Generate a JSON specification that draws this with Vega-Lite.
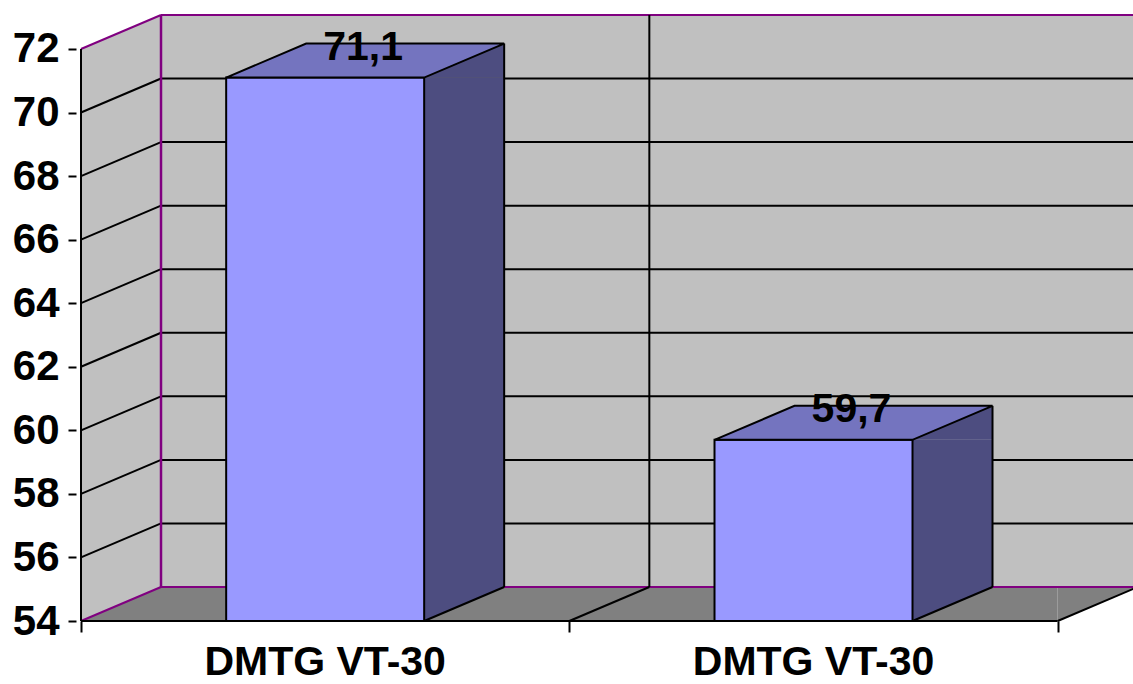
{
  "$schema": "https://vega.github.io/schema/vega-lite/v6.json",
  "autosize": {"type": "none"},
  "padding": {"left": 76, "top": 14, "right": 0, "bottom": 63},
  "width": 1057,
  "height": 607,
  "background": "white",
  "config": {
    "view": {"stroke": null},
    "locale": {"number": {"decimal": ",", "thousands": ".", "grouping": [3], "currency": ["", " €"]}}
  },
  "datasets": {
    "bars": [
      {"idx": 1, "name": "DMTG VT-30", "value": 71.1},
      {"idx": 2, "name": "DMTG VT-30", "value": 59.7}
    ],
    "grid": [
      {"v": 54}, {"v": 56}, {"v": 58}, {"v": 60}, {"v": 62},
      {"v": 64}, {"v": 66}, {"v": 68}, {"v": 70}, {"v": 72}
    ],
    "one": [{}]
  },
  "layer": [
    {
      "data": {"name": "one"},
      "mark": {"type": "rect", "fill": "#c0c0c0", "xOffset": 80, "x2Offset": 80, "yOffset": -34, "y2Offset": -34},
      "encoding": {
        "x": {
          "datum": 0.5, "type": "quantitative",
          "scale": {"domain": [0.5, 2.644], "nice": false, "zero": false},
          "axis": {"values": [0.5, 1.5, 2.5], "labels": false, "title": null, "domain": false, "grid": false, "tickSize": 11, "tickWidth": 2, "tickColor": "#000000"}
        },
        "x2": {"datum": 2.5},
        "y": {
          "datum": 54, "type": "quantitative",
          "scale": {"domain": [54, 73.1], "nice": false, "zero": false},
          "axis": {"values": [54, 56, 58, 60, 62, 64, 66, 68, 70, 72], "title": null, "domain": false, "grid": false, "tickSize": 8, "tickWidth": 2, "tickColor": "#000000", "labelFont": "Liberation Sans", "labelFontSize": 42, "labelFontWeight": "bold", "labelColor": "#000000", "labelPadding": 9, "labelFlush": false, "labelOverlap": false, "labelBound": false}
        },
        "y2": {"datum": 72}
      }
    },
    {
      "data": {"name": "one"},
      "mark": {"type": "rect", "fill": "#c0c0c0", "x2Offset": 80, "y2Offset": -34},
      "encoding": {
        "x": {"datum": 0.5, "type": "quantitative"}, "x2": {"datum": 0.5},
        "y": {"datum": 72, "type": "quantitative"}, "y2": {"datum": 54}
      }
    },
    {
      "data": {"name": "one"},
      "mark": {"type": "point", "shape": "M0 0L80 -34L80 0Z", "size": 4, "filled": true, "fill": "#c0c0c0", "opacity": 1, "strokeWidth": 0},
      "encoding": {"x": {"datum": 0.5, "type": "quantitative"}, "y": {"datum": 72, "type": "quantitative"}}
    },
    {
      "data": {"name": "one"},
      "mark": {"type": "point", "shape": "M0 0L0 -34L80 -34Z", "size": 4, "filled": true, "fill": "#c0c0c0", "opacity": 1, "strokeWidth": 0},
      "encoding": {"x": {"datum": 0.5, "type": "quantitative"}, "y": {"datum": 54, "type": "quantitative"}}
    },
    {
      "data": {"name": "one"},
      "mark": {"type": "rect", "fill": "#808080", "xOffset": 80, "y2Offset": -34},
      "encoding": {
        "x": {"datum": 0.5, "type": "quantitative"}, "x2": {"datum": 2.5},
        "y": {"datum": 54, "type": "quantitative"}, "y2": {"datum": 54}
      }
    },
    {
      "data": {"name": "one"},
      "mark": {"type": "point", "shape": "M0 0L80 -34L80 0Z", "size": 4, "filled": true, "fill": "#808080", "opacity": 1, "strokeWidth": 0},
      "encoding": {"x": {"datum": 0.5, "type": "quantitative"}, "y": {"datum": 54, "type": "quantitative"}}
    },
    {
      "data": {"name": "one"},
      "mark": {"type": "point", "shape": "M0 0L0 -34L80 -34Z", "size": 4, "filled": true, "fill": "#808080", "opacity": 1, "strokeWidth": 0},
      "encoding": {"x": {"datum": 2.5, "type": "quantitative"}, "y": {"datum": 54, "type": "quantitative"}}
    },
    {
      "data": {"name": "grid"},
      "mark": {"type": "rule", "strokeWidth": 2, "xOffset": 80, "x2Offset": 80, "yOffset": -34},
      "encoding": {
        "y": {"field": "v", "type": "quantitative", "title": null},
        "x": {"datum": 0.5, "type": "quantitative"}, "x2": {"datum": 2.5},
        "stroke": {"condition": {"test": "datum.v == 54 || datum.v == 72", "value": "#800080"}, "value": "#000000"}
      }
    },
    {
      "data": {"name": "grid"},
      "mark": {"type": "rule", "strokeWidth": 2, "x2Offset": 80, "y2Offset": -34},
      "encoding": {
        "y": {"field": "v", "type": "quantitative", "title": null},
        "y2": {"field": "v"},
        "x": {"datum": 0.5, "type": "quantitative"}, "x2": {"datum": 0.5},
        "stroke": {"condition": {"test": "datum.v == 54 || datum.v == 72", "value": "#800080"}, "value": "#000000"}
      }
    },
    {
      "data": {"name": "one"},
      "mark": {"type": "rule", "strokeWidth": 2.5, "stroke": "#800080", "xOffset": 80, "yOffset": -34, "y2Offset": -34},
      "encoding": {"x": {"datum": 0.5, "type": "quantitative"}, "y": {"datum": 54, "type": "quantitative"}, "y2": {"datum": 72}}
    },
    {
      "data": {"name": "one"},
      "mark": {"type": "rule", "strokeWidth": 2, "stroke": "#000000", "xOffset": 80, "yOffset": -34, "y2Offset": -34},
      "encoding": {"x": {"datum": 1.5, "type": "quantitative"}, "y": {"datum": 54, "type": "quantitative"}, "y2": {"datum": 72}}
    },
    {
      "data": {"name": "one"},
      "mark": {"type": "rule", "strokeWidth": 2, "stroke": "#000000", "x2Offset": 80, "y2Offset": -34},
      "encoding": {"x": {"datum": 1.5, "type": "quantitative"}, "x2": {"datum": 1.5}, "y": {"datum": 54, "type": "quantitative"}, "y2": {"datum": 54}}
    },
    {
      "data": {"name": "one"},
      "mark": {"type": "rule", "strokeWidth": 2, "stroke": "#000000", "x2Offset": 80, "y2Offset": -34},
      "encoding": {"x": {"datum": 2.5, "type": "quantitative"}, "x2": {"datum": 2.5}, "y": {"datum": 54, "type": "quantitative"}, "y2": {"datum": 54}}
    },
    {
      "data": {"name": "one"},
      "mark": {"type": "rule", "strokeWidth": 2, "stroke": "#000000"},
      "encoding": {"x": {"datum": 0.5, "type": "quantitative"}, "x2": {"datum": 2.5}, "y": {"datum": 54, "type": "quantitative"}}
    },
    {
      "data": {"name": "one"},
      "mark": {"type": "rule", "strokeWidth": 2, "stroke": "#000000"},
      "encoding": {"x": {"datum": 0.5, "type": "quantitative"}, "y": {"datum": 54, "type": "quantitative"}, "y2": {"datum": 72}}
    },
    {
      "data": {"name": "bars"},
      "mark": {"type": "rect", "fill": "#4d4d80", "xOffset": 99, "x2Offset": 179, "y2Offset": -34},
      "encoding": {
        "x": {"field": "idx", "type": "quantitative", "title": null}, "x2": {"field": "idx"},
        "y": {"field": "value", "type": "quantitative", "title": null}, "y2": {"datum": 54}
      }
    },
    {
      "data": {"name": "bars"},
      "mark": {"type": "point", "shape": "M0 0L80 -34L80 0Z", "size": 4, "filled": true, "fill": "#4d4d80", "opacity": 1, "strokeWidth": 0, "xOffset": 99},
      "encoding": {
        "x": {"field": "idx", "type": "quantitative", "title": null},
        "y": {"field": "value", "type": "quantitative", "title": null}
      }
    },
    {
      "data": {"name": "bars"},
      "mark": {"type": "point", "shape": "M0 0L0 -34L80 -34Z", "size": 4, "filled": true, "fill": "#4d4d80", "opacity": 1, "strokeWidth": 0, "xOffset": 99},
      "encoding": {
        "x": {"field": "idx", "type": "quantitative", "title": null},
        "y": {"datum": 54, "type": "quantitative"}
      }
    },
    {
      "data": {"name": "bars"},
      "mark": {"type": "rule", "strokeWidth": 2, "stroke": "#000000", "xOffset": 179, "yOffset": -34, "y2Offset": -34},
      "encoding": {
        "x": {"field": "idx", "type": "quantitative", "title": null},
        "y": {"field": "value", "type": "quantitative", "title": null}, "y2": {"datum": 54}
      }
    },
    {
      "data": {"name": "bars"},
      "mark": {"type": "rule", "strokeWidth": 2, "stroke": "#000000", "xOffset": 99, "x2Offset": 179, "y2Offset": -34},
      "encoding": {
        "x": {"field": "idx", "type": "quantitative", "title": null}, "x2": {"field": "idx"},
        "y": {"datum": 54, "type": "quantitative"}, "y2": {"datum": 54}
      }
    },
    {
      "data": {"name": "bars"},
      "mark": {"type": "bar", "width": 198, "fill": "#9999ff", "stroke": "#000000", "strokeWidth": 2},
      "encoding": {
        "x": {"field": "idx", "type": "quantitative", "title": null},
        "y": {"field": "value", "type": "quantitative", "title": null}, "y2": {"datum": 54}
      }
    },
    {
      "data": {"name": "bars"},
      "mark": {"type": "point", "shape": "M0 0L198 0L278 -34L80 -34Z", "size": 4, "filled": true, "fill": "#7474bf", "opacity": 1, "stroke": "#000000", "strokeWidth": 2, "xOffset": -99},
      "encoding": {
        "x": {"field": "idx", "type": "quantitative", "title": null},
        "y": {"field": "value", "type": "quantitative", "title": null}
      }
    },
    {
      "data": {"name": "bars"},
      "mark": {"type": "text", "font": "Liberation Sans", "fontSize": 41, "fontWeight": "bold", "color": "#000000", "align": "center", "baseline": "alphabetic", "xOffset": 38, "yOffset": -18},
      "encoding": {
        "x": {"field": "idx", "type": "quantitative", "title": null},
        "y": {"field": "value", "type": "quantitative", "title": null},
        "text": {"field": "value", "type": "quantitative", "format": ".1f"}
      }
    },
    {
      "data": {"name": "bars"},
      "mark": {"type": "text", "font": "Liberation Sans", "fontSize": 41, "fontWeight": "bold", "color": "#000000", "align": "center", "baseline": "alphabetic", "yOffset": 54},
      "encoding": {
        "x": {"field": "idx", "type": "quantitative", "title": null},
        "y": {"datum": 54, "type": "quantitative"},
        "text": {"field": "name", "type": "nominal"}
      }
    }
  ]
}
